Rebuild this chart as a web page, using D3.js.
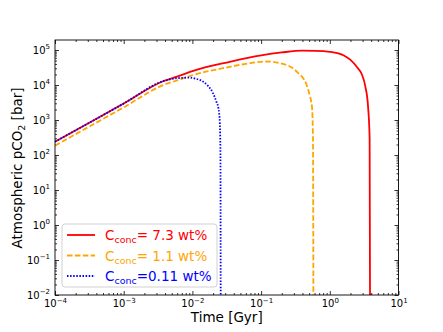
<!DOCTYPE html>
<html>
<head>
<meta charset="utf-8">
<script src="https://cdn.jsdelivr.net/npm/d3@7"></script>
<style>
  body { margin: 0; background: #fff; }
  text { font-family: "DejaVu Sans", sans-serif; }
</style>
</head>
<body>
<div id="chart"></div>
<script>
// time in Gyr, atmospheric pCO2 in bar
var redTime = [1e-4, 3.2e-4, 1e-3, 3.8e-3, 6.3e-3, 1e-2, 3.5e-2, 0.1, 0.2, 0.4, 0.63, 1.0, 1.6, 2.0, 2.5, 2.9, 3.3, 3.6, 3.8, 3.86];
var redCO2 = [240, 850, 2950, 1.3e4, 1.8e4, 2.5e4, 4.6e4, 7e4, 8.5e4, 9.6e4, 9.5e4, 8.9e4, 7e4, 5.2e4, 3.2e4, 2.1e4, 8.9e3, 2.5e3, 3e2, 1e-3];

var orangeTime = [1e-4, 1e-3, 3.8e-3, 6.3e-3, 1e-2, 3.5e-2, 6.3e-2, 0.115, 0.19, 0.33, 0.46, 0.51, 0.55, 0.569, 0.578];
var orangeCO2 = [185, 2300, 1e4, 1.4e4, 1.9e4, 3.3e4, 4.1e4, 4.7e4, 4.2e4, 2.4e4, 1e4, 5e3, 2.4e3, 3.2e2, 1e-3];

var blueTime = [1e-4, 3.2e-4, 1e-3, 3.8e-3, 6.3e-3, 9.2e-3, 1.12e-2, 1.45e-2, 1.7e-2, 2.0e-2, 2.24e-2, 2.4e-2, 2.51e-2, 2.56e-2, 2.585e-2];
var blueCO2 = [240, 850, 2950, 1.3e4, 1.58e4, 1.62e4, 1.51e4, 1.23e4, 9.3e3, 5.8e3, 3.3e3, 2.1e3, 7.9e2, 1e2, 1e-3];

var seriesLabels = [' 7.3 wt%', ' 1.1 wt%', '0.11 wt%'];
var xTickExps = [-4, -3, -2, -1, 0, 1];
var yTickExps = [-2, -1, 0, 1, 2, 3, 4, 5];

var width = 443, height = 332;
var margin = {top: 40, right: 44.5, bottom: 37, left: 55};
var w = width - margin.left - margin.right,
    h = height - margin.top - margin.bottom;

var series = [
    {time: redTime, co2: redCO2, color: 'red', dash: null, label: seriesLabels[0]},
    {time: orangeTime, co2: orangeCO2, color: 'orange', dash: '5.5,2.4', label: seriesLabels[1]},
    {time: blueTime, co2: blueCO2, color: 'blue', dash: '1.5,1.6', label: seriesLabels[2]}
];

var x = d3.scaleLog().domain([1e-4, 1e1]).range([0, w]);
var y = d3.scaleLog().domain([1e-2, Math.pow(10, 5.286)]).range([h, 0]);

var svg = d3.select('#chart').append('svg')
    .attr('width', width)
    .attr('height', height);

svg.append('defs').append('clipPath').attr('id', 'clip')
  .append('rect').attr('width', w).attr('height', h);

var g = svg.append('g')
    .attr('transform', 'translate(' + margin.left + ',' + margin.top + ')');

function minorTicks(lo, hi) {
    var out = [];
    for (var e = lo; e < hi; e++)
        for (var k = 2; k <= 9; k++) out.push(k * Math.pow(10, e));
    return out;
}
var xMinor = minorTicks(-4, 1);
var yMinor = minorTicks(-2, 6).filter(function(v) { return v <= y.domain()[1]; });

function supLabel(sel) {
    sel.each(function(d) {
        var t = d3.select(this);
        var ex = Math.round(Math.log10(d));
        t.text(null);
        t.append('tspan').text('10');
        t.append('tspan').attr('font-size', '7px').attr('dy', '-4.5')
            .text(ex < 0 ? '\u2212' + (-ex) : ex);
    });
}

var xMajor = xTickExps.map(function(e) { return Math.pow(10, e); });
var yMajor = yTickExps.map(function(e) { return Math.pow(10, e); });

// bottom
var bx = g.append('g').attr('transform', 'translate(0,' + h + ')')
    .call(d3.axisBottom(x).tickValues(xMajor).tickSize(-4).tickPadding(5));
bx.selectAll('text').call(supLabel);
g.append('g').attr('transform', 'translate(0,' + h + ')')
    .call(d3.axisBottom(x).tickValues(xMinor).tickSize(-2).tickFormat(''));
// top
g.append('g').call(d3.axisTop(x).tickValues(xMajor).tickSize(-4).tickFormat(''));
g.append('g').call(d3.axisTop(x).tickValues(xMinor).tickSize(-2).tickFormat(''));
// left
var ly = g.append('g')
    .call(d3.axisLeft(y).tickValues(yMajor).tickSize(-4).tickPadding(5));
ly.selectAll('text').call(supLabel);
g.append('g').call(d3.axisLeft(y).tickValues(yMinor).tickSize(-2).tickFormat(''));
// right
g.append('g').attr('transform', 'translate(' + w + ',0)')
    .call(d3.axisRight(y).tickValues(yMajor).tickSize(-4).tickFormat(''));
g.append('g').attr('transform', 'translate(' + w + ',0)')
    .call(d3.axisRight(y).tickValues(yMinor).tickSize(-2).tickFormat(''));

g.selectAll('.domain').remove();
g.selectAll('.tick line').attr('stroke', '#000').attr('stroke-width', 0.8);
g.selectAll('.tick text').attr('fill', '#000').attr('font-size', '10px')
    .attr('font-family', '"DejaVu Sans", sans-serif');

var line = d3.line()
    .x(function(d) { return x(d[0]); })
    .y(function(d) { return y(d[1]); })
    .curve(d3.curveMonotoneX);

var lines = g.append('g').attr('clip-path', 'url(#clip)');
series.forEach(function(s) {
    var pts = s.time.map(function(t, i) { return [t, s.co2[i]]; });
    lines.append('path')
        .datum(pts)
        .attr('d', line)
        .attr('fill', 'none')
        .attr('stroke', s.color)
        .attr('stroke-width', 1.8)
        .attr('stroke-dasharray', s.dash);
});

g.append('rect')
    .attr('width', w).attr('height', h)
    .attr('fill', 'none').attr('stroke', '#000').attr('stroke-width', 0.9);

// legend
var leg = g.append('g').attr('transform', 'translate(7,184)');
leg.append('rect')
    .attr('width', 155).attr('height', 63).attr('rx', 3)
    .attr('fill', '#fff').attr('fill-opacity', 0.8)
    .attr('stroke', '#cccccc').attr('stroke-width', 0.9);
series.forEach(function(s, i) {
    var yy = 11 + i * 20.5;
    leg.append('line')
        .attr('x1', 5).attr('x2', 33).attr('y1', yy).attr('y2', yy)
        .attr('stroke', s.color).attr('stroke-width', 1.8)
        .attr('stroke-dasharray', s.dash);
    var t = leg.append('text')
        .attr('x', 43).attr('y', yy + 5)
        .attr('fill', s.color).attr('font-size', '13.5px');
    t.append('tspan').text('C');
    t.append('tspan').attr('font-size', '9.5px').attr('dy', 3).text('conc');
    t.append('tspan').attr('dy', -3).text('=' + s.label);
});

// axis labels
svg.append('text')
    .attr('x', margin.left + w / 2).attr('y', 321.5)
    .attr('text-anchor', 'middle').attr('font-size', '13.5px')
    .text('Time [Gyr]');

var yl = svg.append('text')
    .attr('transform', 'rotate(-90)')
    .attr('x', -168).attr('y', 21.6)
    .attr('text-anchor', 'middle').attr('font-size', '13.5px');
yl.append('tspan').text('Atmospheric pCO');
yl.append('tspan').attr('font-size', '9.5px').attr('dy', 3).text('2');
yl.append('tspan').attr('dy', -3).text(' [bar]');
</script>
</body>
</html>
